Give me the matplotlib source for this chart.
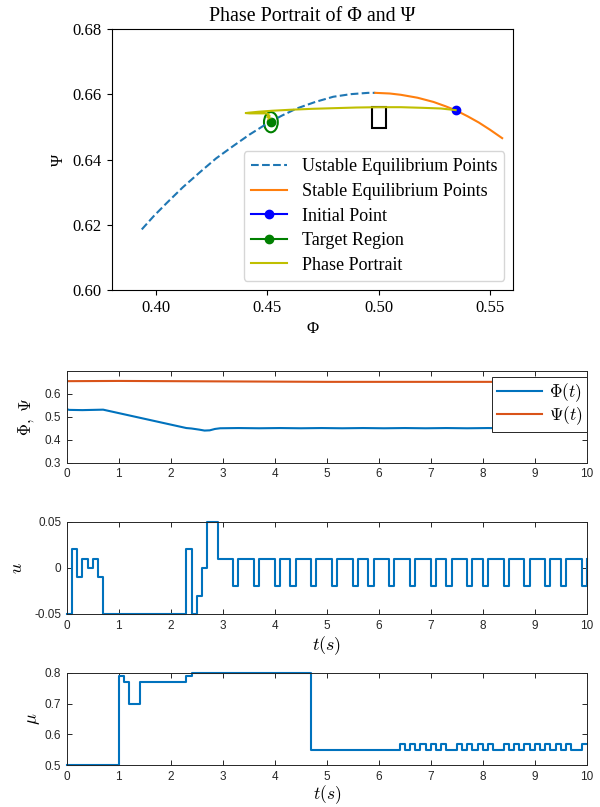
import numpy as np
import matplotlib
matplotlib.use('Agg')
import matplotlib.pyplot as plt
from matplotlib.patches import Circle, Rectangle

# ── 相图数据 ──
unstable_phi = [0.3936, 0.3990, 0.4048, 0.4120, 0.4198, 0.4270, 0.4347, 0.4420,
                0.4497, 0.4565, 0.4632, 0.4715, 0.4796, 0.4875, 0.4953, 0.4985]
unstable_psi = [0.6186, 0.6227, 0.6267, 0.6315, 0.6362, 0.6404, 0.6442, 0.6477,
                0.6510, 0.6535, 0.6557, 0.6577, 0.6593, 0.6601, 0.6605, 0.6605]
stable_phi = [0.4985, 0.5050, 0.5100, 0.5175, 0.5247, 0.5300, 0.5348, 0.5400,
              0.5450, 0.5500, 0.5555]
stable_psi = [0.6605, 0.6603, 0.6599, 0.6590, 0.6577, 0.6564, 0.6551, 0.6533,
              0.6514, 0.6492, 0.6466]
init_point = (0.5346, 0.6552)
target_point = (0.4516, 0.6515)
target_radius = 0.0031
pp_phi = [0.5346, 0.528, 0.520, 0.510, 0.500, 0.490, 0.480, 0.470, 0.460, 0.452,
          0.446, 0.4415, 0.4403, 0.4420, 0.4460, 0.4490, 0.4505, 0.4500, 0.4510,
          0.4505, 0.4515, 0.4510, 0.4516]
pp_psi = [0.6552, 0.6557, 0.6559, 0.6561, 0.6561, 0.6560, 0.6558, 0.6556, 0.6553, 0.6550,
          0.6547, 0.6544, 0.6543, 0.6542, 0.6542, 0.6542, 0.6540, 0.6530, 0.6535,
          0.6522, 0.6526, 0.6515, 0.6515]
box_corner = (0.4969, 0.6498)   # 缺字方框位置
box_size = (0.0064, 0.0063)

# ── 时间响应 ──
phi_t = [0, 0.05, 0.3, 0.7, 1.0, 1.5, 2.0, 2.3, 2.4, 2.55, 2.65, 2.75, 2.85, 2.95,
         3.3, 3.7, 4.1, 4.5, 4.9, 5.3, 5.7, 6.1, 6.5, 6.9, 7.3, 7.7, 8.1, 8.5, 8.9,
         9.3, 9.7, 10.0]
phi_v = [0.533, 0.530, 0.529, 0.531, 0.516, 0.491, 0.466, 0.451, 0.449, 0.444, 0.440,
         0.441, 0.447, 0.450, 0.451, 0.450, 0.451, 0.450, 0.451, 0.450, 0.451, 0.450,
         0.451, 0.450, 0.451, 0.450, 0.451, 0.450, 0.451, 0.450, 0.451, 0.450]
psi_t = [0, 1.0, 2.0, 3.0, 4.0, 5.0, 6.0, 7.0, 8.0, 9.0, 10.0]
psi_v = [0.655, 0.656, 0.655, 0.654, 0.653, 0.652, 0.652, 0.652, 0.652, 0.652, 0.652]

u_t = [0, 0.1, 0.2, 0.3, 0.4, 0.5, 0.6, 0.7, 2.3, 2.4, 2.5, 2.6, 2.7, 2.9,
       3.2, 3.3, 3.6, 3.7, 4.0, 4.1, 4.3, 4.4, 4.7, 4.8, 5.1, 5.2, 5.5, 5.6,
       5.8, 5.9, 6.2, 6.3, 6.6, 6.7, 7.0, 7.1, 7.3, 7.4, 7.7, 7.8, 8.0, 8.1,
       8.4, 8.5, 8.8, 8.9, 9.2, 9.3, 9.5, 9.6, 9.9, 10.0]
u_v = [-0.05, 0.02, -0.01, 0.01, 0.0, 0.01, -0.01, -0.05, 0.02, -0.05, -0.03, 0.0, 0.05, 0.01,
       -0.02, 0.01, -0.02, 0.01, -0.02, 0.01, -0.02, 0.01, -0.02, 0.01, -0.02, 0.01, -0.02, 0.01,
       -0.02, 0.01, -0.02, 0.01, -0.02, 0.01, -0.02, 0.01, -0.02, 0.01, -0.02, 0.01, -0.02, 0.01,
       -0.02, 0.01, -0.02, 0.01, -0.02, 0.01, -0.02, 0.01, -0.02, 0.01]

mu_t = [0, 1.0, 1.1, 1.2, 1.4, 2.3, 2.4, 4.7,
        6.4, 6.5, 6.6, 6.7, 6.8, 6.9, 7.0, 7.1, 7.2, 7.3,
        7.5, 7.6, 7.7, 7.8, 7.9, 8.0, 8.1, 8.2,
        8.4, 8.5, 8.6, 8.7, 8.8, 8.9, 9.0, 9.1, 9.2, 9.3, 9.4, 9.5, 9.6, 9.7,
        9.9, 10.0]
mu_v = [0.50, 0.79, 0.77, 0.70, 0.77, 0.79, 0.80, 0.55,
        0.57, 0.55, 0.57, 0.55, 0.57, 0.55, 0.57, 0.55, 0.57, 0.55,
        0.57, 0.55, 0.57, 0.55, 0.57, 0.55, 0.57, 0.55,
        0.57, 0.55, 0.57, 0.55, 0.57, 0.55, 0.57, 0.55, 0.57, 0.55, 0.57, 0.55, 0.57, 0.55,
        0.57, 0.57]

ML_BLUE = '#0072BD'
ML_ORANGE = '#D95319'
ML_AX = '#262626'
SERIF = ['Liberation Serif', 'DejaVu Serif']
SANS = ['Liberation Sans', 'DejaVu Sans']

plt.rcParams['mathtext.fontset'] = 'cm'
fig = plt.figure(figsize=(6.0, 8.07), dpi=100)

# ── 上图：相图（matplotlib 默认风格） ──
ax0 = fig.add_axes([0.1862, 0.6406, 0.6693, 0.3231])
ax0.plot(unstable_phi, unstable_psi, '--', color='tab:blue', lw=1.5,
         label='Ustable Equilibrium Points')
ax0.plot(stable_phi, stable_psi, '-', color='tab:orange', lw=1.5,
         label='Stable Equilibrium Points')
ax0.plot(*init_point, 'o-', color='blue', ms=6, label='Initial Point')
ax0.plot(*target_point, 'o-', color='green', ms=6, label='Target Region')
ax0.add_patch(Circle(target_point, target_radius, fill=False, ec='green', lw=1.5))
ax0.plot(pp_phi, pp_psi, '-', color='y', lw=1.5, label='Phase Portrait')
ax0.plot(*target_point, 'o', color='green', ms=5)
ax0.add_patch(Rectangle(box_corner, *box_size, fill=False, ec='black', lw=1.5))
ax0.set_xlim(0.3801, 0.5605)
ax0.set_ylim(0.60, 0.68)
ax0.set_xticks([0.40, 0.45, 0.50, 0.55])
ax0.set_xticklabels(['0.40', '0.45', '0.50', '0.55'])
ax0.set_yticks([0.60, 0.62, 0.64, 0.66, 0.68])
ax0.set_yticklabels(['0.60', '0.62', '0.64', '0.66', '0.68'])
for lab in ax0.get_xticklabels() + ax0.get_yticklabels():
    lab.set_family(SERIF)
    lab.set_fontsize(12)
ax0.set_title('Phase Portrait of Φ and Ψ', family=SERIF, fontsize=14.4)
ax0.set_xlabel('Φ', family=SERIF, fontsize=12)
ax0.set_ylabel('Ψ', family=SERIF, fontsize=12)
ax0.legend(loc='lower right', prop={'family': SERIF, 'size': 13}, labelspacing=0.42)


def matlab_axes(ax):
    for s in ax.spines.values():
        s.set_color(ML_AX)
        s.set_linewidth(0.7)
    ax.tick_params(direction='in', top=True, right=True, length=3.5, width=0.7,
                   color=ML_AX, labelcolor=ML_AX, labelsize=8.5, pad=4)
    for lab in ax.get_xticklabels() + ax.get_yticklabels():
        lab.set_family(SANS)
    ax.set_xlim(0, 10)


xt = list(range(11))

# ── Φ, Ψ ──
ax1 = fig.add_axes([0.1112, 0.4266, 0.8667, 0.1136])
ax1.plot(phi_t, phi_v, color=ML_BLUE, lw=1.5, label=r'$\Phi(t)$')
ax1.plot(psi_t, psi_v, color=ML_ORANGE, lw=1.5, label=r'$\Psi(t)$')
ax1.set_ylim(0.3, 0.699)
ax1.set_yticks([0.3, 0.4, 0.5, 0.6])
ax1.set_xticks(xt)
matlab_axes(ax1)
ax1.set_ylabel(r'$\Phi,\ \Psi$', fontsize=12, labelpad=6)
leg = ax1.legend(loc='upper right', bbox_to_anchor=(1.0, 0.938), borderaxespad=0,
                 fontsize=12.5, fancybox=False, framealpha=1, edgecolor=ML_AX,
                 handlelength=2.6, borderpad=0.25, labelspacing=0.05, handletextpad=0.4)
leg.get_frame().set_linewidth(0.7)

# ── u ──
ax2 = fig.add_axes([0.1112, 0.2392, 0.8667, 0.1144])
ax2.plot(u_t, u_v, drawstyle='steps-post', color=ML_BLUE, lw=1.5, clip_on=False)
ax2.set_ylim(-0.05, 0.05)
ax2.set_yticks([-0.05, 0, 0.05])
ax2.set_yticklabels(['-0.05', '0', '0.05'])
ax2.set_xticks(xt)
matlab_axes(ax2)
ax2.set_ylabel(r'$u$', fontsize=13, labelpad=6)
ax2.set_xlabel(r'$t(s)$', fontsize=13, labelpad=2)

# ── μ ──
ax3 = fig.add_axes([0.1112, 0.0517, 0.8667, 0.1147])
ax3.plot(mu_t, mu_v, drawstyle='steps-post', color=ML_BLUE, lw=1.5, clip_on=False)
ax3.set_ylim(0.5, 0.8)
ax3.set_yticks([0.5, 0.6, 0.7, 0.8])
ax3.set_xticks(xt)
matlab_axes(ax3)
ax3.set_ylabel(r'$\mu$', fontsize=13, labelpad=2)
ax3.set_xlabel(r'$t(s)$', fontsize=12.5, labelpad=0.5)

fig.savefig('out.png', dpi=100)
